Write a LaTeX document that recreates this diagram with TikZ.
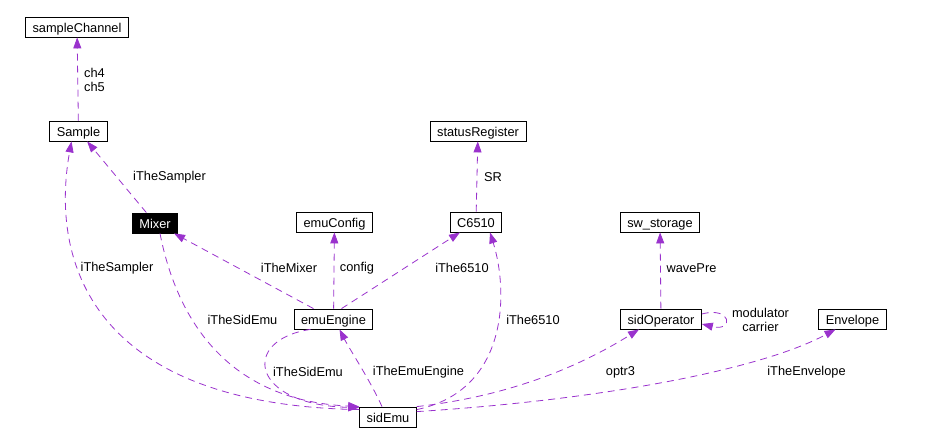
\documentclass[tikz,border=0pt]{standalone}
\usepackage{fontspec}
\setmainfont{Liberation Sans}
\usetikzlibrary{arrows.meta}
\definecolor{edgecol}{HTML}{9A32CD}
\newcommand{\dxfont}{\fontsize{12.8}{14.5}\selectfont}

\begin{document}
\begin{tikzpicture}[x=1pt, y=-1pt, >={Triangle[length=11pt,width=8pt]},
  cls/.style={draw, line width=0.8pt, inner xsep=7pt, inner ysep=0pt,
    text height=15.5pt, text depth=4.5pt, font=\dxfont},
  uses/.style={->, edgecol, line width=0.8pt, dash pattern=on 7pt off 5pt},
  lbl/.style={font=\dxfont, inner sep=0pt}]
  \useasboundingbox (0,0) rectangle (949,444);

  % Classes
  \node[cls] (sampleChannel) at (77,27) {sampleChannel};
  \node[cls] (Sample) at (78.5,131) {Sample};
  \node[cls, fill=black, text=white] (Mixer) at (155,223) {Mixer};
  \node[cls] (emuConfig) at (334.5,222) {emuConfig};
  \node[cls] (C6510) at (476,222) {C6510};
  \node[cls] (statusRegister) at (478,131) {statusRegister};
  \node[cls] (sw_storage) at (660,222) {sw\_storage};
  \node[cls] (emuEngine) at (333.5,319) {emuEngine};
  \node[cls] (sidOperator) at (661,319) {sidOperator};
  \node[cls] (Envelope) at (852.5,319) {Envelope};
  \node[cls] (sidEmu) at (388,417) {sidEmu};

  % Usage relations
  \draw[uses] (Sample) -- (sampleChannel);
  \draw[uses] (Mixer) -- (Sample);
  \draw[uses] ([yshift=-3pt]sidEmu.north west) .. controls (90,405) and (50,260) .. ([xshift=-7pt]Sample.south);
  \draw[uses] ([xshift=5pt]Mixer.south) .. controls (175,310) and (220,400) .. (sidEmu.north west);
  \draw[uses] ([xshift=-20pt]emuEngine.north) -- ([xshift=-4pt]Mixer.south east);
  \draw[uses] (emuEngine) -- (emuConfig);
  \draw[uses] ([xshift=8pt]emuEngine.north) -- ([xshift=-16pt]C6510.south);
  \draw[uses] ([yshift=-3pt]sidEmu.north east) .. controls (510,390) and (508,290) .. ([xshift=14pt]C6510.south);
  \draw[uses] (C6510) -- (statusRegister);
  \draw[uses] (sidOperator) -- (sw_storage);
  \draw[uses] ([yshift=5pt]sidOperator.east) .. controls (732,306) and (734,332) .. ([yshift=-5pt]sidOperator.east);
  \draw[uses] (sidEmu.north east) .. controls (520,395) and (590,360) .. ([xshift=-22pt]sidOperator.south);
  \draw[uses] ([yshift=-5pt]sidEmu.north east) .. controls (600,400) and (760,370) .. ([xshift=-17pt]Envelope.south);
  \draw[uses] ([xshift=-6pt]sidEmu.north) .. controls (370,380) and (350,350) .. ([xshift=6pt]emuEngine.south);
  \draw[uses] ([xshift=-23pt]emuEngine.south) .. controls (240,340) and (250,405) .. ([yshift=-1pt]sidEmu.north west);

  % Labels
  \node[lbl, align=left] (lCh) at (94.5,80) {ch4\\ch5};
  \node[lbl] (lSamplerA) at (169.5,177) {iTheSampler};
  \node[lbl] (lSamplerB) at (117,268) {iTheSampler};
  \node[lbl] (lSidEmuA) at (242.5,320) {iTheSidEmu};
  \node[lbl] (lMixer) at (289,268) {iTheMixer};
  \node[lbl] (lConfig) at (357,268) {config};
  \node[lbl] (l6510A) at (462,268) {iThe6510};
  \node[lbl] (l6510B) at (533,320) {iThe6510};
  \node[lbl] (lSR) at (493,177) {SR};
  \node[lbl] (lWave) at (691.5,268) {wavePre};
  \node[lbl, align=center] (lLoop) at (760.5,320) {modulator\\carrier};
  \node[lbl] (lSidEmuB) at (308,372) {iTheSidEmu};
  \node[lbl] (lEmuEngine) at (418.5,372) {iTheEmuEngine};
  \node[lbl] (lOptr) at (620.5,372) {optr3};
  \node[lbl] (lEnv) at (806.5,372) {iTheEnvelope};
\end{tikzpicture}
\end{document}
